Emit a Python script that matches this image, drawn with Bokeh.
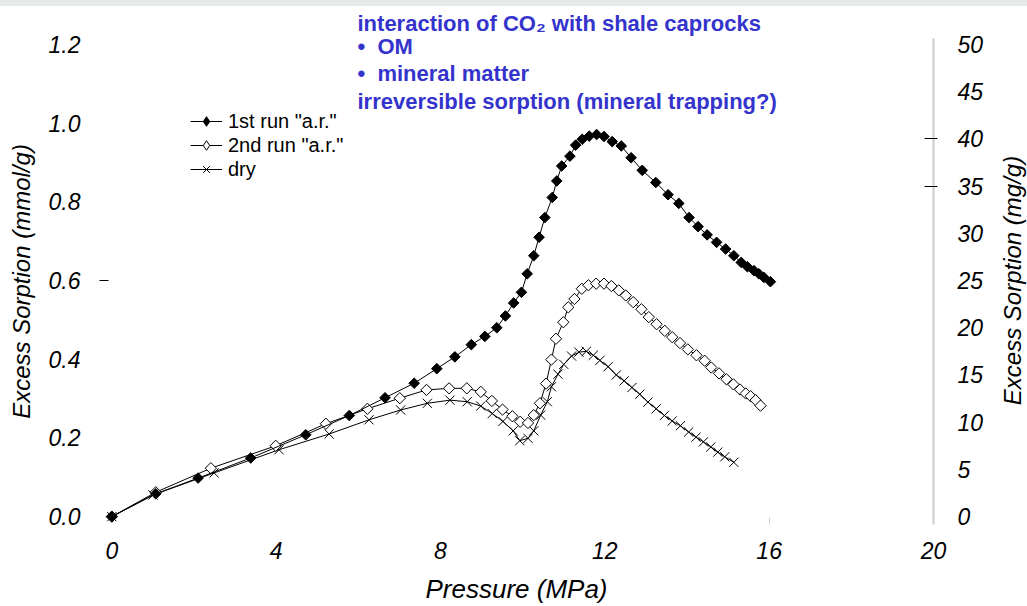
import numpy as np
from bokeh.plotting import figure
from bokeh.layouts import column, row
from bokeh.models import (Range1d, LinearAxis, FixedTicker, Label, Legend,
                          LegendItem, NumeralTickFormatter, Div)
from bokeh.embed import file_html
from bokeh.resources import INLINE

# --- CO2 excess sorption isotherms on shale caprock ---
run1_pressure = [0.00, 1.07, 2.10, 3.38, 4.72, 5.78, 6.65, 7.36, 7.91, 8.35,
                 8.75, 9.08, 9.37, 9.58, 9.78, 9.97, 10.11, 10.27, 10.40, 10.54,
                 10.72, 10.83, 10.95, 11.15, 11.29, 11.45, 11.62, 11.80, 11.98, 12.18,
                 12.40, 12.64, 12.91, 13.24, 13.54, 13.80, 14.05, 14.27, 14.49, 14.72,
                 14.94, 15.14, 15.32, 15.47, 15.63, 15.75, 15.87, 16.03]
run1_sorption = [0.000, 0.058, 0.098, 0.149, 0.208, 0.257, 0.302, 0.339, 0.376, 0.406,
                 0.437, 0.458, 0.480, 0.510, 0.543, 0.570, 0.617, 0.663, 0.710, 0.760,
                 0.811, 0.853, 0.891, 0.916, 0.944, 0.959, 0.967, 0.971, 0.966, 0.953,
                 0.942, 0.912, 0.880, 0.849, 0.818, 0.796, 0.760, 0.737, 0.716, 0.697,
                 0.680, 0.663, 0.646, 0.635, 0.625, 0.617, 0.608, 0.597]

run2_pressure = [0.00, 1.07, 2.41, 3.99, 5.21, 6.22, 7.01, 7.66, 8.21, 8.64,
                 8.98, 9.25, 9.51, 9.75, 9.94, 10.13, 10.27, 10.42, 10.57, 10.70,
                 10.81, 10.99, 11.11, 11.26, 11.44, 11.60, 11.79, 11.98, 12.16, 12.34,
                 12.51, 12.69, 12.89, 13.07, 13.26, 13.46, 13.64, 13.83, 14.02, 14.23,
                 14.43, 14.59, 14.78, 14.96, 15.13, 15.29, 15.43, 15.55, 15.67, 15.79]
run2_sorption = [0.000, 0.062, 0.123, 0.180, 0.236, 0.274, 0.301, 0.322, 0.326, 0.326,
                 0.317, 0.294, 0.272, 0.255, 0.241, 0.238, 0.258, 0.288, 0.338, 0.399,
                 0.452, 0.494, 0.532, 0.553, 0.579, 0.588, 0.592, 0.592, 0.586, 0.575,
                 0.562, 0.545, 0.527, 0.507, 0.489, 0.472, 0.456, 0.441, 0.425, 0.410,
                 0.396, 0.379, 0.364, 0.349, 0.336, 0.323, 0.313, 0.306, 0.296, 0.282]

dry_pressure = [0.00, 1.00, 2.49, 4.07, 5.29, 6.26, 7.03, 7.68, 8.23, 8.65,
                8.98, 9.26, 9.52, 9.77, 9.93, 10.13, 10.27, 10.44, 10.60, 10.70,
                10.86, 11.00, 11.19, 11.37, 11.55, 11.72, 11.88, 12.08, 12.28, 12.47,
                12.66, 12.85, 13.05, 13.25, 13.45, 13.64, 13.84, 14.04, 14.22, 14.40,
                14.58, 14.75, 14.92, 15.14]
dry_sorption = [0.000, 0.055, 0.111, 0.170, 0.210, 0.246, 0.271, 0.288, 0.296, 0.292,
                0.281, 0.262, 0.242, 0.218, 0.193, 0.199, 0.218, 0.258, 0.292, 0.330,
                0.362, 0.387, 0.408, 0.418, 0.420, 0.410, 0.397, 0.381, 0.360, 0.345,
                0.328, 0.311, 0.291, 0.274, 0.257, 0.243, 0.231, 0.215, 0.202, 0.190,
                0.177, 0.164, 0.152, 0.138]

series_names = ['1st run "a.r."', '2nd run "a.r."', 'dry']

pressure_ticks = [0, 4, 8, 12, 16, 20]
mmol_ticks = [0.0, 0.2, 0.4, 0.6, 0.8, 1.0, 1.2]
mg_ticks = [0, 5, 10, 15, 20, 25, 30, 35, 40, 45, 50]

headline = "interaction of CO\u2082 with shale caprocks"
notes = ["\u2022\u00a0\u00a0OM",
         "\u2022\u00a0\u00a0mineral matter",
         "irreversible sorption (mineral trapping?)"]
right_title = "Excess Sorption (mg/g)"

AX_FONT = "Liberation Sans"
NOTE_BLUE = "#3434cc"

Y_LO, Y_HI = -0.02, 1.215
MG_PER_MMOL_SCALE = 50 / 1.2

p = figure(width=997, height=600, output_backend="svg", toolbar_location=None,
           x_range=Range1d(-0.3, 20.0), y_range=Range1d(Y_LO, Y_HI),
           min_border_left=99, min_border_right=64,
           min_border_top=31, min_border_bottom=81)
p.grid.visible = False
p.outline_line_color = None
p.background_fill_color = "white"
p.border_fill_color = "white"

# headline above the frame
p.title.text = headline
p.title.align = "left"
p.title.offset = 258
p.title.standoff = 5
p.title.text_font = AX_FONT
p.title.text_font_style = "bold"
p.title.text_font_size = "22px"
p.title.text_color = NOTE_BLUE

# secondary scale in mg/g
p.extra_y_ranges = {"mg": Range1d(Y_LO * MG_PER_MMOL_SCALE, Y_HI * MG_PER_MMOL_SCALE)}

# bottom axis
xa = p.xaxis[0]
xa.ticker = FixedTicker(ticks=pressure_ticks, minor_ticks=[16])
xa.axis_label = "Pressure (MPa)"
xa.axis_line_color = None
xa.major_tick_line_color = None
xa.minor_tick_line_color = "#cfcfcf"
xa.minor_tick_in = 7
xa.minor_tick_out = 0
xa.major_label_standoff = 11
xa.axis_label_standoff = 12

# left axis
ya = p.yaxis[0]
ya.ticker = FixedTicker(ticks=mmol_ticks, minor_ticks=[0.6])
ya.formatter = NumeralTickFormatter(format="0.0")
ya.axis_label = "Excess Sorption (mmol/g)"
ya.axis_line_color = None
ya.major_tick_line_color = None
ya.minor_tick_line_color = "black"
ya.minor_tick_in = 9
ya.minor_tick_out = 0
ya.major_label_standoff = 13
ya.axis_label_standoff = 11

# right axis (mg/g)
ra = LinearAxis(y_range_name="mg",
                ticker=FixedTicker(ticks=mg_ticks, minor_ticks=[35, 40]))
ra.axis_line_color = "#cccccc"
ra.axis_line_width = 2
ra.major_tick_line_color = None
ra.minor_tick_line_color = "black"
ra.minor_tick_in = 9
ra.minor_tick_out = 4
ra.major_label_standoff = 18
p.add_layout(ra, "right")

for ax in (xa, ya, ra):
    ax.major_label_text_font = AX_FONT
    ax.major_label_text_font_style = "italic"
    ax.major_label_text_font_size = "23px"
    ax.major_label_text_color = "black"
    ax.axis_label_text_font = AX_FONT
    ax.axis_label_text_font_style = "italic"
    ax.axis_label_text_font_size = "24px"
    ax.axis_label_text_color = "black"
xa.axis_label_text_font_size = "26px"

# series
dry_line = p.line(dry_pressure, dry_sorption, line_color="black", line_width=1)
dry_pts = p.scatter(dry_pressure, dry_sorption, marker="x", size=13,
                    line_color="black", line_width=1)

r2_line = p.line(run2_pressure, run2_sorption, line_color="black", line_width=1)
r2_pts = p.scatter(run2_pressure, run2_sorption, marker="square", angle=np.pi / 4,
                   size=8, fill_color="white", line_color="black", line_width=1)

r1_line = p.line(run1_pressure, run1_sorption, line_color="black", line_width=1)
r1_pts = p.scatter(run1_pressure, run1_sorption, marker="square", angle=np.pi / 4,
                   size=7.5, fill_color="black", line_color="black", line_width=1)

# legend swatches: diamond keys drawn from the same series (hidden in the frame)
r1_key = p.scatter(run1_pressure, run1_sorption, marker="diamond", size=12,
                   fill_color="black", line_color="black", visible=False)
r2_key = p.scatter(run2_pressure, run2_sorption, marker="diamond", size=12,
                   fill_color="white", line_color="black", visible=False)

legend = Legend(items=[
    LegendItem(label=series_names[0], renderers=[r1_line, r1_key]),
    LegendItem(label=series_names[1], renderers=[r2_line, r2_key]),
    LegendItem(label=series_names[2], renderers=[dry_line, dry_pts]),
], location=(91, 343))
legend.border_line_color = None
legend.background_fill_alpha = 0
legend.inactive_fill_alpha = 0
legend.padding = 0
legend.margin = 0
legend.spacing = 0
legend.glyph_width = 32
legend.glyph_height = 24
legend.label_height = 24
legend.label_standoff = 6
legend.label_text_font = AX_FONT
legend.label_text_font_size = "20px"
legend.label_text_color = "black"
p.add_layout(legend)

# bullet notes inside the frame
note_x = 5.98
note_y = [1.195, 1.127, 1.056]
for txt, yy in zip(notes, note_y):
    p.add_layout(Label(x=note_x, y=yy, text=txt, text_font=AX_FONT,
                       text_font_style="bold", text_font_size="22px",
                       text_color=NOTE_BLUE, text_baseline="alphabetic"))

# narrow strip carrying the mg/g axis title, sharing the vertical scale
side = figure(width=30, height=600, output_backend="svg", toolbar_location=None,
              x_range=Range1d(0, 1), y_range=p.y_range,
              x_axis_location=None, y_axis_location=None,
              min_border_left=0, min_border_right=0,
              min_border_top=31, min_border_bottom=81)
side.grid.visible = False
side.outline_line_color = None
side.background_fill_color = "white"
side.border_fill_color = "white"
side.add_layout(Label(x=0.5, y=0.6, text=right_title, angle=np.pi / 2,
                      text_align="center", text_baseline="middle",
                      text_font=AX_FONT, text_font_style="italic",
                      text_font_size="24px", text_color="black"))

top_band = Div(text="", width=1027, height=6, margin=0,
               styles={"background-color": "#e6eaea"})

layout = column(top_band, row(p, side, spacing=0), spacing=0)
open("out.html", "w").write(file_html(layout, INLINE))
